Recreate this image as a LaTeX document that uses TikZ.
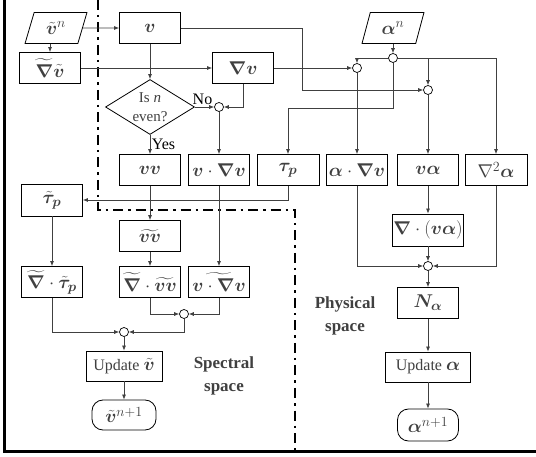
\RequirePackage{fix-cm}
\documentclass[tikz,border=0pt]{standalone}
\usepackage{fontspec}
\setmainfont{Liberation Serif}
\usepackage{amsmath}
\usepackage{bm}
\DeclareMathSizes{16}{18.5}{14}{10}
\usepackage{tikz}
\usetikzlibrary{shapes.geometric,arrows.meta}
\tikzset{box style/.style={
		draw=black,
		line width=0.8pt,
		fill=white,
		rectangle,
		minimum width=61pt,
		minimum height=31pt,
		inner sep=1pt,
	},
	io style/.style={
		draw=black,
		line width=0.8pt,
		fill=white,
		trapezium,
		trapezium left angle=72,
		trapezium right angle=108,
		trapezium stretches=true,
		minimum width=62pt,
		minimum height=31pt,
		inner sep=0pt,
	},
	end style/.style={
		draw=black,
		line width=0.8pt,
		fill=white,
		rectangle,
		rounded corners=11pt,
		minimum width=62pt,
		minimum height=31pt,
		inner sep=1pt,
	},
	decision style/.style={
		draw=black,
		line width=0.8pt,
		fill=white,
		diamond,
		aspect=1.6,
		minimum width=89pt,
		minimum height=55pt,
		inner sep=0pt,
		align=center,
		font=\fontsize{15}{19}\selectfont,
	},
	join style/.style={
		draw=black,
		line width=0.7pt,
		fill=white,
		circle,
		inner sep=0pt,
		minimum size=9pt,
	},
	edge style/.style={
		#1,
		text=black,
		inner sep=1.5pt,
	},
	space style/.style={
		align=center,
		font=\fontsize{17}{23}\selectfont\bfseries,
	},
	region style/.style={
		line width=2.8pt,
		dash pattern=on 10pt off 5pt on 2.5pt off 5pt,
	}
}

\begin{document}
\begin{tikzpicture}[x=1pt,y=-1pt,>={Latex[length=5pt,width=4pt]},
	every node/.style={font=\fontsize{16}{19}\selectfont},
	every edge/.style={draw,black!75,line width=0.7pt},
	every path/.style={black!75,line width=0.7pt}]
	\useasboundingbox (0,0) rectangle (536,457);
	\draw[black,line width=3pt] (4.5,0) -- (4.5,451.5) -- (536,451.5);
	\draw[black,region style] (98,0) -- (98,210) -- (295,210) -- (295,451);

	% spectral start
	\node[io style] (vn) at (56,28) {$\tilde{\bm v}^n$};
	\node[box style] (v) at (150,28) {$\bm v$}
		edge [<-] (vn);
	\node[box style] (gradtv) at (50,68) {$\widetilde{\bm\nabla}\tilde{\bm v}$};
	\draw[->] (gradtv.north |- vn.south) -- (gradtv.north);
	\node[box style] (gradv) at (243,68) {$\bm{\nabla v}$}
		edge [<-] (gradtv);
	\node[decision style] (even) at (150,107) {Is \textit{n}\\even?}
		edge [<-] (v);
	\node[join style] (nojoin) at (219,107) {}
		edge [<-] node[edge style={above left},pos=0]{No} (even);
	\draw[->] (gradv.south) |- (nojoin.east);

	% physical start
	\node[io style] (an) at (393,28) {$\bm\alpha^n$};
	\node[join style] (ajoin) at (393,58) {}
		edge [<-] (an);
	\node[join style] (ajoinA) at (357,68) {}
		edge [<-] (gradv);
	\node[join style] (ajoinB) at (428,90) {};

	% middle row
	\node[box style] (vv) at (150,170) {$\bm{vv}$}
		edge [<-] node[edge style=right]{Yes} (even);
	\node[box style] (vgradv) at (219,170) {$\bm v\cdot\bm{\nabla v}$}
		edge [<-] (nojoin);
	\node[box style, minimum width=62pt] (taup) at (288,170) {$\bm{\tau_p}$};
	\node[box style] (agradv) at (357,170) {$\bm\alpha\cdot\bm{\nabla v}$}
		edge [<-] (ajoinA);
	\node[box style] (va) at (428,170) {$\bm{v\alpha}$}
		edge [<-] (ajoinB);
	\node[box style, minimum width=62pt] (lapa) at (496,170) {$\nabla^2\bm\alpha$};

	\coordinate (vturn) at (302,28);
	\coordinate (tauturn) at (393,108);
	\draw[->] (v.east) -- (vturn) |- (ajoinB.west);
	\draw[->] (ajoin.west) -| (ajoinA.north);
	\draw[->] (ajoin.east) -| (ajoinB.north);
	\draw[->] (ajoin.east) -| (lapa.north);
	\draw[->] (ajoin.south) -- (tauturn) -| (taup.north);

	% spectral space
	\node[box style, minimum height=32pt] (ttau) at (52,200) {$\tilde{\bm\tau}_{\bm p}$};
	\draw[->] (taup.south) |- (ttau.east);
	\node[box style] (tvv) at (150,236) {$\widetilde{\bm{vv}}$}
		edge [<-] (vv);
	\node[box style] (dtau) at (52,282) {$\widetilde{\bm\nabla}\cdot\tilde{\bm\tau}_{\bm p}$}
		edge [<-] (ttau);
	\node[box style] (dvv) at (150,282) {$\widetilde{\bm\nabla}\cdot\widetilde{\bm{vv}}$}
		edge [<-] (tvv);
	\node[box style] (tvgradv) at (219,282) {$\widetilde{\bm v\cdot\bm{\nabla v}}$}
		edge [<-] (vgradv);
	\node[join style] (sjoinA) at (184,314) {};
	\node[join style] (sjoinB) at (124,332) {};
	\draw[->] (dvv.south) |- (sjoinA.west);
	\draw[->] (tvgradv.south) |- (sjoinA.east);
	\draw[->] (dtau.south) |- (sjoinB.west);
	\draw[->] (sjoinA.south) |- (sjoinB.east);
	\node[box style, minimum width=76pt, minimum height=30pt] (updv) at (124,366) {Update $\tilde{\bm v}$}
		edge [<-] (sjoinB);
	\node[end style, minimum width=64pt, minimum height=30pt] (vnext) at (124,415) {$\tilde{\bm v}^{n+1}$}
		edge [<-] (updv);

	% physical space
	\node[box style, minimum width=71pt, minimum height=32pt] (divva) at (428,230) {$\bm\nabla\cdot(\bm{v\alpha})$}
		edge [<-] (va);
	\node[join style] (pjoin) at (428,266) {}
		edge [<-] (divva);
	\draw[->] (agradv.south) |- (pjoin.west);
	\draw[->] (lapa.south) |- (pjoin.east);
	\node[box style] (na) at (428,303) {$\bm N_{\bm\alpha}$}
		edge [<-] (pjoin);
	\node[box style, minimum width=85pt, minimum height=30pt] (upda) at (428,367) {Update $\bm\alpha$}
		edge [<-] (na);
	\node[end style, minimum width=61pt, minimum height=32pt] (anext) at (428,425) {$\bm\alpha^{n+1}$}
		edge [<-] (upda);

	\node[space style] (spectral) at (224,376) {Spectral\\space};
	\node[space style] (physical) at (345,316) {Physical\\space};
\end{tikzpicture}
\end{document}
